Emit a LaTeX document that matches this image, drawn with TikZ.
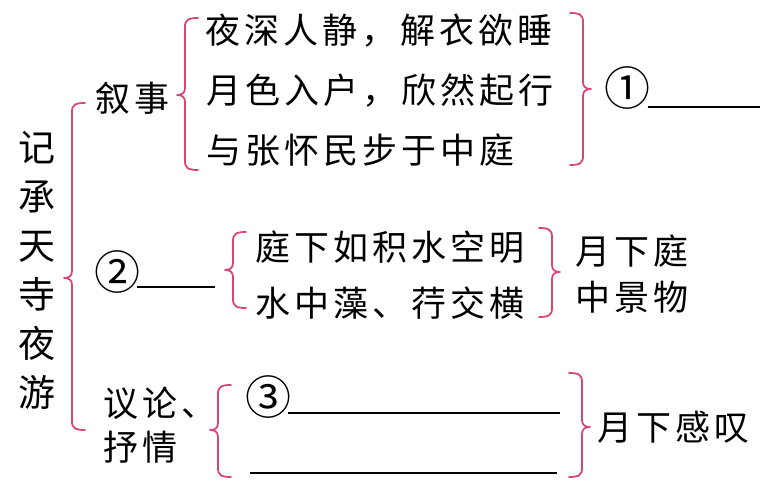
\documentclass[tikz,border=0pt]{standalone}
\usepackage{fontspec}
\newfontfamily\cjk[LetterSpace=11.5]{Noto Sans CJK SC}
\newfontfamily\cjkplain{Noto Sans CJK SC}
\definecolor{brcol}{RGB}{214,70,122}
\newcommand\brc[5]{\draw[brace line] ({#2+(#1)*13},#3) .. controls ({#2+(#1)*3},#3) and (#2,{#3+2}) .. (#2,{#3+9}) -- (#2,{#4-7}) .. controls (#2,{#4-2}) and ({#2-(#1)*3},#4) .. ({#2-(#1)*8},#4) .. controls ({#2-(#1)*3},#4) and (#2,{#4+2}) .. (#2,{#4+7}) -- (#2,{#5-9}) .. controls (#2,{#5-2}) and ({#2+(#1)*3},#5) .. ({#2+(#1)*13},#5);}
\begin{document}
\begin{tikzpicture}[x=1pt,y=-1pt,
  txt/.style={anchor=base west, inner sep=0pt, font=\cjk\fontsize{35}{35}\selectfont},
  ttl/.style={anchor=base, inner sep=0pt, font=\cjkplain\fontsize{37}{37}\selectfont},
  num/.style={anchor=center, inner sep=0pt, font=\cjkplain\fontsize{46}{46}\selectfont},
  brace line/.style={draw=brcol, line width=1.8pt, line cap=round, line join=round},
  uline/.style={draw=black, line width=1.6pt}]
\useasboundingbox (0,0) rectangle (779,487);
% title
\node[ttl] (t1) at (37,161) {记};
\node[ttl] (t2) at (37,210) {承};
\node[ttl] (t3) at (37,259) {天};
\node[ttl] (t4) at (37,308) {寺};
\node[ttl] (t5) at (37,357) {夜};
\node[ttl] (t6) at (37,406) {游};
% braces
\brc{1}{72}{103}{278}{430}
\brc{1}{185}{18}{95}{170}
\brc{-1}{583}{13}{89}{165}
\brc{1}{233}{232}{270}{308}
\brc{-1}{552}{228}{272}{317}
\brc{1}{218}{385}{430}{477}
\brc{-1}{582}{373}{427}{477}
% narrative
\node[txt] (xs) at (95,111) {叙事};
\node[txt] (l1) at (205,44) {夜深人静，解衣欲睡};
\node[txt] (l2) at (206,103) {月色入户，欣然起行};
\node[txt] (l3) at (206,163) {与张怀民步于中庭};
\node[num] (n1) at (627.5,88) {①};
\coordinate (u1a) at (648,107);
\coordinate (u1b) at (760,107);
\draw[uline] (u1a) -- (u1b);
% scenery
\node[num] (n2) at (117.5,272) {②};
\coordinate (u2a) at (137,287);
\coordinate (u2b) at (215,287);
\draw[uline] (u2a) -- (u2b);
\node[txt] (l4) at (255,260) {庭下如积水空明};
\node[txt] (l5) at (255,316) {水中藻、荇交横};
\node[txt] (s1) at (575,264) {月下庭};
\node[txt] (s2) at (575,310) {中景物};
% comment
\node[txt] (y1) at (103,416) {议论、};
\node[txt] (y2) at (103,460) {抒情};
\node[num] (n3) at (268.5,397) {③};
\coordinate (u3a) at (288,413);
\coordinate (u3b) at (560,413);
\draw[uline] (u3a) -- (u3b);
\coordinate (u4a) at (250,473);
\coordinate (u4b) at (557,473);
\draw[uline] (u4a) -- (u4b);
\node[txt] (g1) at (597,440) {月下感叹};
\end{tikzpicture}
\end{document}
